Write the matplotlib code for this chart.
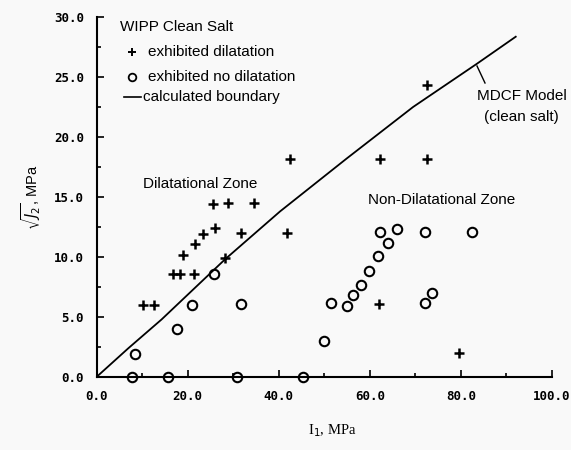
import matplotlib
matplotlib.use("Agg")
import matplotlib.pyplot as plt
from matplotlib.ticker import MultipleLocator, FormatStrFormatter

# Data
dil_I1 = [10.3, 12.6, 16.7, 18.3, 21.4, 18.9, 21.7, 23.3, 26.0, 31.7, 28.2,
          25.6, 28.8, 34.6, 41.9, 42.5, 62.2, 72.5, 72.5, 62.1, 79.6]
dil_J2 = [6.0, 6.0, 8.6, 8.6, 8.6, 10.2, 11.1, 11.9, 12.4, 12.0, 9.9,
          14.4, 14.5, 14.5, 12.0, 18.2, 18.2, 18.2, 24.3, 6.1, 2.0]

nodil_I1 = [7.7, 15.6, 30.8, 8.5, 17.7, 21.0, 25.9, 31.7, 45.4, 50.0, 51.5,
            55.1, 56.4, 58.0, 59.8, 61.7, 64.1, 62.2, 66.0, 72.1, 82.4, 72.1, 73.7]
nodil_J2 = [0.0, 0.0, 0.0, 1.95, 4.0, 6.0, 8.6, 6.1, 0.0, 3.0, 6.2,
            5.9, 6.8, 7.7, 8.8, 10.1, 11.2, 12.1, 12.3, 12.1, 12.1, 6.2, 7.0]

bound_I1 = [0.0, 7.0, 14.3, 28.2, 40.3, 54.9, 69.5, 83.5, 92.2]
bound_J2 = [0.0, 2.4, 4.8, 9.8, 13.8, 18.2, 22.5, 26.1, 28.4]

fig = plt.figure(figsize=(5.71, 4.5), dpi=100, facecolor="#f9f9f9")
ax = fig.add_axes([96.5/571, 73/450, 455.5/571, 360/450])
ax.set_facecolor("#f9f9f9")

ax.plot(bound_I1, bound_J2, color="black", lw=1.3, solid_capstyle="butt")
ax.plot(dil_I1, dil_J2, ls="none", marker="+", ms=7, mew=1.8, color="black", clip_on=False)
ax.plot(nodil_I1, nodil_J2, ls="none", marker="o", ms=6.8, mew=1.5, mfc="none",
        mec="black", clip_on=False)

ax.set_xlim(0, 100)
ax.set_ylim(0, 30)
for s in ["top", "right"]:
    ax.spines[s].set_visible(False)
for s in ["left", "bottom"]:
    ax.spines[s].set_linewidth(1.5)

ax.xaxis.set_major_locator(MultipleLocator(20))
ax.xaxis.set_minor_locator(MultipleLocator(10))
ax.yaxis.set_major_locator(MultipleLocator(5))
ax.yaxis.set_minor_locator(MultipleLocator(2.5))
ax.xaxis.set_major_formatter(FormatStrFormatter("%.1f"))
ax.yaxis.set_major_formatter(FormatStrFormatter("%.1f"))
ax.tick_params(which="both", direction="in", width=1.2)
ax.tick_params(which="major", length=5)
ax.tick_params(which="minor", length=3)
ax.tick_params(axis="x", which="major", pad=9)
ax.tick_params(axis="y", which="major", pad=9)
for lab in ax.get_xticklabels() + ax.get_yticklabels():
    lab.set_fontfamily("DejaVu Sans Mono")
    lab.set_fontweight("bold")
    lab.set_fontsize(9)

ax.set_ylabel(r"$\sqrt{J_2}$, MPa", fontsize=10.5, family="Liberation Sans")
ax.yaxis.set_label_coords(-0.117, 0.5)
ax.set_xlabel(r"I$_1$, MPa", fontsize=10.5, family="Liberation Serif")
ax.xaxis.set_label_coords(0.517, -0.125)

def px(x, y):
    return ((x - 96.5) / 455.5, (377 - y) / 360)

tf = dict(family="Liberation Sans", fontsize=11, transform=ax.transAxes)
ax.text(*px(120, 27), "WIPP Clean Salt", va="center", ha="left", **tf)
ax.plot(*px(132, 52), marker="+", ms=6, mew=1.4, color="black", transform=ax.transAxes, clip_on=False)
ax.text(*px(148, 52), "exhibited dilatation", va="center", ha="left", **tf)
ax.plot(*px(132, 77), marker="o", ms=5.5, mew=1.3, mfc="none", mec="black", transform=ax.transAxes, clip_on=False)
ax.text(*px(148, 77), "exhibited no dilatation", va="center", ha="left", **tf)
x0, y0 = px(124, 97)
x1, _ = px(141, 97)
ax.plot([x0, x1], [y0, y0], color="black", lw=1.2, transform=ax.transAxes, clip_on=False)
ax.text(*px(143, 97), "calculated boundary", va="center", ha="left", **tf)

ax.text(*px(200, 184), "Dilatational Zone", va="center", ha="center", **tf)
ax.text(*px(442, 200), "Non-Dilatational Zone", va="center", ha="center", **tf)
ax.text(*px(522, 96), "MDCF Model", va="center", ha="center", **tf)
ax.text(*px(521, 117), "(clean salt)", va="center", ha="center", **tf)
a0 = px(477, 66)
a1 = px(485, 83)
ax.plot([a0[0], a1[0]], [a0[1], a1[1]], color="black", lw=1.0, transform=ax.transAxes, clip_on=False)

fig.savefig("out.png", dpi=100, facecolor=fig.get_facecolor())
